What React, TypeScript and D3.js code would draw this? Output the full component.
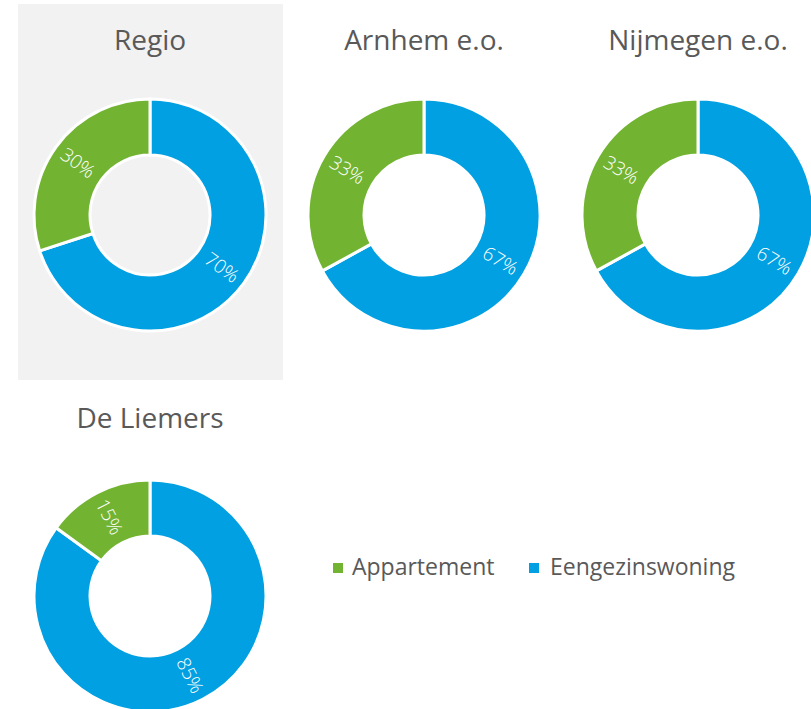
import React from "react";
import * as d3 from "d3";

const regions = ["Regio", "Arnhem e.o.", "Nijmegen e.o.", "De Liemers"];
const appartement = [30, 33, 33, 15];
const eengezinswoning = [70, 67, 67, 85];
const seriesNames = ["Appartement", "Eengezinswoning"];
const seriesColors = ["#72B432", "#00A0E2"];

const W = 811;
const H = 709;
const centers: [number, number][] = [
  [150, 215],
  [424, 215],
  [698, 215],
  [150, 596],
];
const R = 116;
const RIN = 60;
const FONT = "'Open Sans', 'Noto Sans', sans-serif";

function Donut({ idx }: { idx: number }) {
  const [cx, cy] = centers[idx];
  const data = [
    { key: 1, value: eengezinswoning[idx] },
    { key: 0, value: appartement[idx] },
  ];
  const pie = d3.pie<{ key: number; value: number }>().sort(null).value((d) => d.value);
  const arcs = pie(data);
  const arc = d3.arc<d3.PieArcDatum<{ key: number; value: number }>>().innerRadius(RIN).outerRadius(R);
  const labelR = (R + RIN) / 2 + 1;
  return (
    <g transform={`translate(${cx},${cy})`}>
      {arcs.map((a, i) => (
        <path key={i} d={arc(a) || ""} fill={seriesColors[a.data.key]} stroke="#ffffff" strokeWidth={3} />
      ))}
      {arcs.map((a, i) => {
        const mid = (a.startAngle + a.endAngle) / 2;
        const x = Math.sin(mid) * labelR;
        const y = -Math.cos(mid) * labelR;
        let rot = (mid * 180) / Math.PI - 90;
        while (rot > 90) rot -= 180;
        while (rot <= -90) rot += 180;
        return (
          <text
            key={"l" + i}
            transform={`translate(${x},${y}) rotate(${rot})`}
            textAnchor="middle"
            dominantBaseline="central"
            fill="#ffffff"
            fontFamily={FONT}
            fontWeight={300}
            fontSize={19}
          >
            {a.data.value}%
          </text>
        );
      })}
    </g>
  );
}

export default function App() {
  return (
    <svg
      width={W}
      height={H}
      style={{ position: "absolute", left: 0, top: 0, background: "#ffffff" }}
    >
      <rect x={18} y={4} width={265} height={376} fill="#F2F2F2" />
      {regions.map((r, i) => (
        <text
          key={r}
          x={centers[i][0]}
          y={i < 3 ? 50 : 428}
          textAnchor="middle"
          fill="#595959"
          fontFamily={FONT}
          fontSize={28}
        >
          {r}
        </text>
      ))}
      {regions.map((r, i) => (
        <Donut key={"d" + r} idx={i} />
      ))}
      <g fontFamily={FONT} fontSize={23} fill="#595959">
        <rect x={333} y={563} width={10} height={10} fill={seriesColors[0]} />
        <text x={352} y={575}>{seriesNames[0]}</text>
        <rect x={529} y={563} width={10} height={10} fill={seriesColors[1]} />
        <text x={550} y={575}>{seriesNames[1]}</text>
      </g>
    </svg>
  );
}
